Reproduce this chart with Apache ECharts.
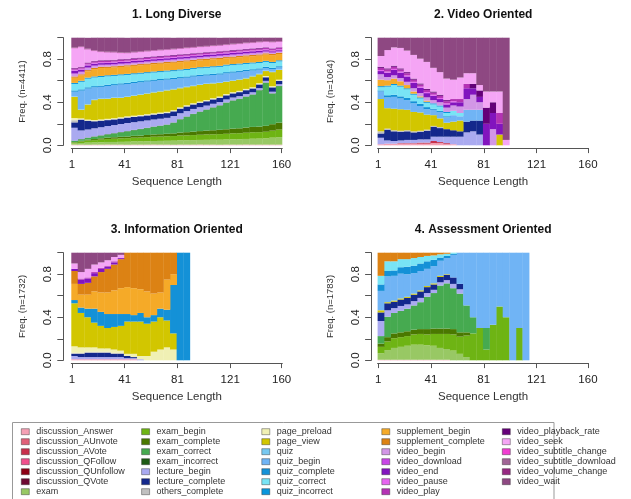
<!DOCTYPE html>
<html>
<head>
<meta charset="utf-8">
<script src="https://cdn.jsdelivr.net/npm/echarts@6/dist/echarts.min.js"></script>
<style>
html,body{margin:0;padding:0;background:#fff;}
#chart{width:631px;height:499px;}
</style>
</head>
<body>
<div id="chart"></div>
<script>
// ---- States (alphabetical = stacking order, bottom to top) and their colours ----
const states = [
  'discussion_Answer','discussion_AUnvote','discussion_AVote','discussion_QFollow','discussion_QUnfollow','discussion_QVote','exam',
  'exam_begin','exam_complete','exam_correct','exam_incorrect','lecture_begin','lecture_complete','others_complete',
  'page_preload','page_view','quiz','quiz_begin','quiz_complete','quiz_correct','quiz_incorrect',
  'supplement_begin','supplement_complete','video_begin','video_download','video_end','video_pause','video_play',
  'video_playback_rate','video_seek','video_subtitle_change','video_subtitle_download','video_volume_change','video_wait'
];
const stateColors = [
  '#F4A0B4','#E06078','#C8304C','#F0508C','#8C0014','#6E0A32','#98C864',
  '#6EB414','#4A7800','#46AA50','#1E5A14','#AAAAF0','#14288C','#C0C0C0',
  '#F0F0B4','#D2C600','#78C8F0','#70B4F5','#1491D7','#78E4F5','#0A96DC',
  '#F5AA28','#DC8214','#D296E6','#C846E6','#8214BE','#E664F0','#B432B4',
  '#640078','#F5A5F5','#F03CD2','#A06496','#962882','#8E4882'
];

const xTickValues = [1, 41, 81, 121, 160];
const yTickValues = [0, 0.2, 0.4, 0.6, 0.8, 1];
const yLabelValues = [0, 0.4, 0.8];

const panelTitles = ['1. Long Diverse', '2. Video Oriented', '3. Information Oriented', '4. Assessment Oriented'];
const panelSizes = [4411, 1064, 1732, 1783];

// Sequence positions grouped in bins of five (bin centres); every panel uses the same bins
const binCentres = [3,8,13,18,23,28,33,38,43,48,53,58,63,68,73,78,83,88,93,98,103,108,113,118,123,128,133,138,143,148,153,158];

// ---- 1. Long Diverse: state frequencies per bin ----
const ld_discussion_Answer = [0.006,0.006,0.005,0.006,0.006,0.007,0.006,0.006,0.005,0.006,0.006,0.006,0.007,0.006,0.006,0.005,0.006,0.006,0.006,0.007,0.006,0.006,0.005,0.006,0.006,0.006,0.007,0.006,0.006,0.006,0.006,0.006];
const ld_exam = [0.010,0.015,0.020,0.020,0.022,0.024,0.025,0.026,0.028,0.030,0.030,0.032,0.033,0.035,0.036,0.038,0.040,0.040,0.042,0.043,0.045,0.046,0.047,0.048,0.050,0.050,0.052,0.055,0.056,0.058,0.065,0.070];
const ld_exam_begin = [0.010,0.015,0.020,0.022,0.025,0.027,0.030,0.032,0.033,0.035,0.036,0.038,0.040,0.040,0.042,0.043,0.045,0.046,0.047,0.048,0.050,0.050,0.052,0.053,0.055,0.056,0.058,0.060,0.060,0.062,0.065,0.070];
const ld_exam_complete = [0.004,0.006,0.008,0.010,0.012,0.013,0.014,0.015,0.016,0.017,0.018,0.020,0.021,0.022,0.023,0.025,0.027,0.030,0.032,0.034,0.036,0.038,0.040,0.042,0.044,0.046,0.048,0.050,0.052,0.055,0.060,0.065];
const ld_exam_correct = [0.010,0.013,0.016,0.022,0.025,0.030,0.035,0.041,0.047,0.052,0.060,0.064,0.070,0.077,0.083,0.098,0.122,0.143,0.163,0.179,0.193,0.210,0.225,0.246,0.260,0.272,0.286,0.299,0.336,0.399,0.284,0.339];
const ld_exam_incorrect = [0.003,0.003,0.003,0.003,0.003,0.003,0.003,0.003,0.003,0.003,0.003,0.003,0.003,0.003,0.003,0.003,0.003,0.003,0.003,0.003,0.003,0.003,0.003,0.003,0.003,0.003,0.003,0.003,0.003,0.003,0.003,0.003];
const ld_lecture_begin = [0.120,0.080,0.075,0.075,0.075,0.075,0.075,0.075,0.075,0.072,0.070,0.068,0.066,0.064,0.062,0.060,0.055,0.050,0.045,0.040,0.036,0.033,0.030,0.028,0.026,0.024,0.022,0.020,0.018,0.016,0.015,0.015];
const ld_lecture_complete = [0.050,0.100,0.080,0.065,0.060,0.055,0.052,0.050,0.050,0.048,0.047,0.046,0.045,0.045,0.044,0.043,0.042,0.042,0.041,0.040,0.040,0.040,0.039,0.038,0.038,0.037,0.036,0.035,0.034,0.033,0.040,0.030];
const ld_others_complete = [0.020,0.004,0.004,0.004,0.004,0.004,0.004,0.004,0.004,0.004,0.004,0.004,0.004,0.004,0.004,0.004,0.004,0.004,0.004,0.004,0.004,0.004,0.004,0.004,0.004,0.004,0.004,0.004,0.004,0.004,0.004,0.004];
const ld_page_preload = [0.020,0.008,0.008,0.008,0.008,0.008,0.008,0.008,0.008,0.008,0.008,0.008,0.008,0.008,0.008,0.008,0.008,0.008,0.008,0.008,0.008,0.008,0.008,0.008,0.008,0.008,0.008,0.008,0.008,0.008,0.008,0.008];
const ld_page_view = [0.197,0.080,0.140,0.185,0.190,0.185,0.188,0.180,0.180,0.185,0.188,0.191,0.194,0.196,0.199,0.192,0.178,0.168,0.159,0.155,0.149,0.137,0.126,0.114,0.106,0.104,0.097,0.100,0.083,0.046,0.130,0.090];
const ld_quiz = [0.005,0.005,0.005,0.005,0.005,0.005,0.005,0.005,0.005,0.005,0.005,0.005,0.005,0.005,0.005,0.005,0.005,0.005,0.005,0.005,0.005,0.005,0.005,0.005,0.005,0.005,0.005,0.005,0.005,0.005,0.005,0.005];
const ld_quiz_begin = [0.043,0.173,0.143,0.113,0.108,0.115,0.112,0.119,0.116,0.113,0.110,0.107,0.103,0.099,0.095,0.091,0.087,0.083,0.083,0.078,0.073,0.073,0.073,0.073,0.070,0.067,0.063,0.050,0.038,0.023,0.023,0.018];
const ld_quiz_complete = [0.012,0.012,0.012,0.012,0.012,0.012,0.012,0.012,0.012,0.012,0.012,0.012,0.012,0.012,0.012,0.012,0.012,0.012,0.012,0.012,0.012,0.012,0.012,0.012,0.012,0.012,0.012,0.012,0.012,0.012,0.012,0.012];
const ld_quiz_correct = [0.060,0.070,0.080,0.080,0.080,0.078,0.076,0.074,0.072,0.070,0.068,0.066,0.065,0.064,0.063,0.062,0.061,0.060,0.060,0.060,0.060,0.060,0.060,0.060,0.058,0.056,0.055,0.053,0.050,0.045,0.045,0.045];
const ld_quiz_incorrect = [0.010,0.010,0.010,0.010,0.010,0.010,0.010,0.010,0.010,0.010,0.010,0.010,0.010,0.010,0.010,0.010,0.010,0.010,0.010,0.010,0.010,0.010,0.010,0.010,0.010,0.010,0.010,0.010,0.010,0.010,0.010,0.010];
const ld_supplement_begin = [0.048,0.048,0.058,0.068,0.073,0.068,0.068,0.068,0.068,0.068,0.068,0.068,0.068,0.068,0.068,0.068,0.068,0.068,0.063,0.063,0.063,0.063,0.063,0.058,0.058,0.058,0.058,0.058,0.058,0.058,0.063,0.058];
const ld_supplement_complete = [0.012,0.012,0.012,0.012,0.012,0.012,0.012,0.012,0.012,0.012,0.012,0.012,0.012,0.012,0.012,0.012,0.012,0.012,0.012,0.012,0.012,0.012,0.012,0.012,0.012,0.012,0.012,0.012,0.012,0.012,0.012,0.012];
const ld_video_begin = [0.022,0.018,0.018,0.015,0.013,0.013,0.013,0.013,0.013,0.013,0.013,0.013,0.013,0.013,0.013,0.013,0.013,0.013,0.013,0.013,0.013,0.013,0.013,0.013,0.013,0.013,0.013,0.013,0.013,0.011,0.008,0.008];
const ld_video_download = [0.006,0.006,0.006,0.006,0.006,0.006,0.006,0.006,0.006,0.006,0.006,0.006,0.006,0.006,0.006,0.006,0.006,0.006,0.006,0.006,0.006,0.006,0.006,0.006,0.006,0.006,0.006,0.006,0.006,0.006,0.006,0.006];
const ld_video_end = [0.026,0.020,0.020,0.018,0.015,0.015,0.015,0.015,0.015,0.015,0.015,0.015,0.015,0.015,0.015,0.015,0.015,0.015,0.015,0.015,0.015,0.015,0.015,0.015,0.015,0.015,0.015,0.015,0.015,0.012,0.010,0.010];
const ld_video_pause = [0.008,0.008,0.008,0.008,0.008,0.008,0.008,0.008,0.008,0.008,0.008,0.008,0.008,0.008,0.008,0.008,0.008,0.008,0.008,0.008,0.008,0.008,0.008,0.008,0.008,0.008,0.008,0.008,0.008,0.008,0.008,0.008];
const ld_video_play = [0.012,0.012,0.012,0.012,0.012,0.012,0.012,0.012,0.012,0.012,0.012,0.012,0.012,0.012,0.012,0.012,0.012,0.012,0.012,0.012,0.012,0.012,0.012,0.012,0.012,0.012,0.012,0.012,0.012,0.012,0.012,0.012];
const ld_video_playback_rate = [0.006,0.006,0.006,0.006,0.006,0.006,0.006,0.006,0.006,0.006,0.006,0.006,0.006,0.006,0.006,0.006,0.006,0.006,0.006,0.006,0.006,0.006,0.006,0.006,0.006,0.006,0.006,0.006,0.006,0.006,0.006,0.006];
const ld_video_seek = [0.180,0.180,0.120,0.090,0.075,0.070,0.065,0.055,0.050,0.050,0.050,0.050,0.050,0.050,0.050,0.050,0.050,0.050,0.050,0.050,0.050,0.050,0.050,0.050,0.050,0.050,0.050,0.050,0.050,0.050,0.055,0.050];
const ld_video_subtitle_change = [0.003,0.003,0.003,0.003,0.003,0.003,0.003,0.003,0.003,0.003,0.003,0.003,0.003,0.003,0.003,0.003,0.003,0.003,0.003,0.003,0.003,0.003,0.003,0.003,0.003,0.003,0.003,0.003,0.003,0.003,0.003,0.003];
const ld_video_subtitle_download = [0.002,0.002,0.002,0.002,0.002,0.002,0.002,0.002,0.002,0.002,0.002,0.002,0.002,0.002,0.002,0.002,0.002,0.002,0.002,0.002,0.002,0.002,0.002,0.002,0.002,0.002,0.002,0.002,0.002,0.002,0.002,0.002];
const ld_video_volume_change = [0.004,0.004,0.004,0.004,0.004,0.004,0.004,0.004,0.004,0.004,0.004,0.004,0.004,0.004,0.004,0.004,0.004,0.004,0.004,0.004,0.004,0.004,0.004,0.004,0.004,0.004,0.004,0.004,0.004,0.004,0.004,0.004];
const ld_video_wait = [0.091,0.081,0.101,0.116,0.126,0.131,0.131,0.136,0.136,0.131,0.126,0.121,0.116,0.111,0.106,0.101,0.096,0.091,0.086,0.081,0.076,0.071,0.066,0.061,0.056,0.051,0.046,0.041,0.036,0.031,0.036,0.031];

// ---- 2. Video Oriented (positions 1-100) ----
const vo_discussion_Answer = [0.01,0.015,0.015,0.015,0.015,0.015,0.015,0.015,0.02,0.02,0.01,0.01,0,0,0,0,0,0,0,0];
const vo_discussion_AVote = [0,0,0,0.005,0.005,0.005,0.01,0.01,0.02,0.01,0.01,0,0,0,0,0,0,0,0,0];
const vo_lecture_begin = [0.06,0.03,0.025,0.025,0.03,0.03,0.03,0.03,0.04,0.05,0.06,0.07,0.08,0.12,0.13,0.10,0,0,0,0];
const vo_lecture_complete = [0.04,0.10,0.09,0.08,0.08,0.07,0.07,0.08,0.09,0.08,0.07,0.06,0.05,0.10,0.10,0.13,0,0,0,0];
const vo_others_complete = [0.02,0.01,0.01,0.01,0.01,0.01,0.01,0.01,0.01,0.01,0,0,0,0,0,0,0,0,0,0];
const vo_page_view = [0.30,0.19,0.20,0.20,0.19,0.18,0.17,0.14,0.10,0.08,0.06,0.08,0.10,0,0,0,0,0,0.10,0];
const vo_quiz_begin = [0.07,0.10,0.11,0.10,0.09,0.08,0.06,0.05,0.05,0.06,0.05,0.06,0.04,0.11,0.10,0.10,0,0,0,0];
const vo_quiz_complete = [0.01,0.02,0.02,0.02,0.02,0.02,0.02,0.02,0.01,0.01,0.01,0,0,0,0,0,0,0,0,0];
const vo_quiz_correct = [0.03,0.08,0.09,0.09,0.08,0.06,0.05,0.04,0.04,0.04,0.03,0.04,0.03,0,0,0,0,0,0,0];
const vo_quiz_incorrect = [0.01,0.01,0.01,0.01,0.01,0.01,0.01,0.01,0.01,0.01,0.01,0,0,0,0,0,0,0,0,0];
const vo_supplement_begin = [0.06,0.05,0.05,0.04,0.03,0.02,0.01,0.01,0,0,0,0,0,0,0,0,0,0,0,0];
const vo_video_begin = [0.05,0.03,0.03,0.03,0.03,0.03,0.03,0.03,0.03,0.03,0.04,0.05,0.06,0.10,0.14,0.07,0,0.15,0,0];
const vo_video_end = [0.03,0.04,0.05,0.05,0.05,0.05,0.05,0.04,0.04,0.03,0.03,0.03,0.04,0.10,0.06,0.05,0.20,0.15,0.10,0];
const vo_video_pause = [0.01,0.01,0.01,0.01,0.01,0.01,0.01,0.01,0.01,0.01,0.01,0.01,0,0,0,0,0,0,0,0];
const vo_video_play = [0.02,0.02,0.02,0.02,0.02,0.02,0.02,0.02,0.02,0.02,0.02,0.02,0.03,0.04,0,0,0,0,0.10,0];
const vo_video_playback_rate = [0.01,0.01,0.01,0.01,0.01,0.01,0.01,0.01,0.01,0.01,0.01,0,0,0,0.04,0.06,0.15,0.10,0,0];
const vo_video_seek = [0.10,0.17,0.17,0.19,0.20,0.22,0.23,0.25,0.22,0.21,0.20,0.18,0.20,0.10,0.10,0.05,0.15,0.10,0.20,0.05];
const vo_video_wait = [0.17,0.115,0.09,0.095,0.12,0.16,0.195,0.225,0.28,0.32,0.38,0.39,0.37,0.33,0.33,0.44,0.50,0.50,0.50,0.95];

// ---- 3. Information Oriented (positions 1-90) ----
const io_discussion_Answer = [0.01,0.01,0.01,0.01,0.01,0.01,0.01,0.01,0.01,0.01,0,0,0,0,0,0,0,0];
const io_lecture_begin = [0.03,0.02,0.02,0.02,0.02,0.02,0.02,0.02,0.01,0.01,0.01,0,0,0,0,0,0,0];
const io_lecture_complete = [0.02,0.03,0.04,0.04,0.04,0.04,0.03,0.03,0.02,0.01,0,0,0,0,0,0,0,0];
const io_others_complete = [0.01,0.01,0.01,0.01,0.01,0.01,0.01,0.01,0,0,0,0,0,0,0,0,0,0];
const io_page_preload = [0.06,0.05,0.04,0.04,0.03,0.03,0.03,0.02,0.02,0.03,0.03,0.04,0.08,0.10,0.12,0.10,0,0];
const io_page_view = [0.40,0.32,0.28,0.23,0.21,0.19,0.21,0.23,0.30,0.30,0.32,0.30,0.28,0.30,0.25,0.15,0,0];
const io_quiz_complete = [0.03,0.05,0.08,0.13,0.13,0.13,0.12,0.11,0.07,0.06,0.08,0.06,0.06,0.08,0.10,0.45,1.0,1.0];
const io_supplement_begin = [0.15,0.12,0.13,0.16,0.18,0.20,0.22,0.24,0.25,0.25,0.22,0.24,0.20,0.15,0.28,0.10,0,0];
const io_supplement_complete = [0.12,0.10,0.11,0.14,0.19,0.22,0.24,0.27,0.32,0.33,0.34,0.36,0.38,0.37,0.25,0.20,0,0];
const io_video_end = [0.02,0.04,0.04,0.03,0.03,0.02,0.02,0.01,0,0,0,0,0,0,0,0,0,0];
const io_video_play = [0,0.01,0.01,0.01,0.01,0.01,0.01,0,0,0,0,0,0,0,0,0,0,0];
const io_video_seek = [0.05,0.06,0.08,0.07,0.05,0.05,0.04,0.03,0,0,0,0,0,0,0,0,0,0];
const io_video_wait = [0.10,0.18,0.15,0.11,0.09,0.07,0.04,0.02,0,0,0,0,0,0,0,0,0,0];

// ---- 4. Assessment Oriented (positions 1-115) ----
const ao_discussion_Answer = [0.005,0.005,0.005,0.005,0.005,0.005,0.005,0.005,0.005,0.005,0.005,0,0,0,0,0,0,0,0,0,0,0,0];
const ao_exam = [0.06,0.09,0.11,0.12,0.13,0.14,0.14,0.135,0.13,0.11,0.10,0.09,0.06,0.03,0,0,0,0,0,0,0,0,0];
const ao_exam_begin = [0.06,0.08,0.09,0.09,0.09,0.095,0.10,0.10,0.11,0.13,0.14,0.15,0.16,0.20,0.25,0.30,0.10,0.33,0.50,0.40,0,0.30,0];
const ao_exam_complete = [0.03,0.04,0.045,0.045,0.045,0.045,0.045,0.05,0.05,0.05,0.05,0.05,0.04,0.03,0,0,0,0,0,0,0,0,0];
const ao_exam_correct = [0.07,0.19,0.19,0.20,0.21,0.225,0.25,0.30,0.33,0.40,0.42,0.38,0.36,0.25,0.15,0,0.20,0,0,0,0,0,0];
const ao_lecture_begin = [0.14,0.06,0.045,0.045,0.04,0.04,0.04,0.035,0.03,0.03,0.03,0.04,0.04,0,0,0,0,0,0,0,0,0,0];
const ao_lecture_complete = [0.08,0.065,0.06,0.06,0.06,0.06,0.06,0.055,0.05,0.05,0.05,0.06,0.05,0,0,0,0,0,0,0,0,0,0];
const ao_page_view = [0.02,0.01,0.01,0.01,0.01,0.01,0.01,0.01,0.01,0.01,0.005,0,0,0,0,0,0,0,0,0,0,0,0];
const ao_quiz_begin = [0.18,0.24,0.23,0.23,0.21,0.19,0.18,0.16,0.16,0.14,0.15,0.21,0.29,0.49,0.60,0.70,0.70,0.67,0.50,0.60,1.0,0.70,1.0];
const ao_quiz_complete = [0.06,0.05,0.05,0.06,0.07,0.07,0.07,0.07,0.06,0.03,0.02,0.01,0,0,0,0,0,0,0,0,0,0,0];
const ao_quiz_correct = [0.08,0.09,0.085,0.075,0.07,0.07,0.06,0.05,0.04,0.03,0.02,0.01,0,0,0,0,0,0,0,0,0,0,0];
const ao_supplement_complete = [0.215,0.08,0.08,0.06,0.06,0.05,0.04,0.03,0.025,0.015,0.01,0,0,0,0,0,0,0,0,0,0,0,0];

// ---- Tables handed to the chart ----
const panelTables = [
  {
    discussion_Answer: ld_discussion_Answer, exam: ld_exam, exam_begin: ld_exam_begin, exam_complete: ld_exam_complete,
    exam_correct: ld_exam_correct, exam_incorrect: ld_exam_incorrect, lecture_begin: ld_lecture_begin,
    lecture_complete: ld_lecture_complete, others_complete: ld_others_complete, page_preload: ld_page_preload,
    page_view: ld_page_view, quiz: ld_quiz, quiz_begin: ld_quiz_begin, quiz_complete: ld_quiz_complete,
    quiz_correct: ld_quiz_correct, quiz_incorrect: ld_quiz_incorrect, supplement_begin: ld_supplement_begin,
    supplement_complete: ld_supplement_complete, video_begin: ld_video_begin, video_download: ld_video_download,
    video_end: ld_video_end, video_pause: ld_video_pause, video_play: ld_video_play,
    video_playback_rate: ld_video_playback_rate, video_seek: ld_video_seek,
    video_subtitle_change: ld_video_subtitle_change, video_subtitle_download: ld_video_subtitle_download,
    video_volume_change: ld_video_volume_change, video_wait: ld_video_wait
  },
  {
    discussion_Answer: vo_discussion_Answer, discussion_AVote: vo_discussion_AVote, lecture_begin: vo_lecture_begin,
    lecture_complete: vo_lecture_complete, others_complete: vo_others_complete, page_view: vo_page_view,
    quiz_begin: vo_quiz_begin, quiz_complete: vo_quiz_complete, quiz_correct: vo_quiz_correct,
    quiz_incorrect: vo_quiz_incorrect, supplement_begin: vo_supplement_begin, video_begin: vo_video_begin,
    video_end: vo_video_end, video_pause: vo_video_pause, video_play: vo_video_play,
    video_playback_rate: vo_video_playback_rate, video_seek: vo_video_seek, video_wait: vo_video_wait
  },
  {
    discussion_Answer: io_discussion_Answer, lecture_begin: io_lecture_begin, lecture_complete: io_lecture_complete,
    others_complete: io_others_complete, page_preload: io_page_preload, page_view: io_page_view,
    quiz_complete: io_quiz_complete, supplement_begin: io_supplement_begin, supplement_complete: io_supplement_complete,
    video_end: io_video_end, video_play: io_video_play, video_seek: io_video_seek, video_wait: io_video_wait
  },
  {
    discussion_Answer: ao_discussion_Answer, exam: ao_exam, exam_begin: ao_exam_begin, exam_complete: ao_exam_complete,
    exam_correct: ao_exam_correct, lecture_begin: ao_lecture_begin, lecture_complete: ao_lecture_complete,
    page_view: ao_page_view, quiz_begin: ao_quiz_begin, quiz_complete: ao_quiz_complete,
    quiz_correct: ao_quiz_correct, supplement_complete: ao_supplement_complete
  }
];

// ---- Layout ----
const FONT = "'Liberation Sans', Arial, Helvetica, sans-serif";
const plotW = 211, plotH = 107.6;
const panelBoxes = [
  { left: 71.3,  top: 37.7,  yOffset: 8.0 },
  { left: 377.6, top: 37.7,  yOffset: 6.5 },
  { left: 71.3,  top: 252.7, yOffset: 8.0 },
  { left: 377.6, top: 252.7, yOffset: 6.5 }
];
const binPixelWidth = plotW / binCentres.length + 0.35;

const grid = panelBoxes.map(b => ({ left: b.left, top: b.top, width: plotW, height: plotH }));

const axisLineStyle = { color: '#555', width: 1 };

// Each panel: a hidden category axis carrying the bins, and a visible value axis for positions
const xAxis = [];
panelBoxes.forEach((b, k) => {
  xAxis.push({
    type: 'category', gridIndex: k, data: binCentres.map(String), boundaryGap: true, show: false
  });
  xAxis.push({
    type: 'value', gridIndex: k, min: 0.5, max: 160.5, offset: 2.8, position: 'bottom',
    name: 'Sequence Length', nameLocation: 'middle', nameGap: 28,
    nameTextStyle: { fontSize: 11.5, color: '#333', fontFamily: FONT },
    axisLine: { show: true, onZero: false, lineStyle: axisLineStyle },
    axisTick: { show: true, length: 5, customValues: xTickValues, lineStyle: axisLineStyle },
    axisLabel: { customValues: xTickValues, fontSize: 11.5, color: '#222', margin: 11, fontFamily: FONT },
    splitLine: { show: false }
  });
});

const yAxis = panelBoxes.map((b, k) => ({
  type: 'value', gridIndex: k, min: 0, max: 1, offset: b.yOffset,
  name: 'Freq. (n=' + panelSizes[k] + ')', nameLocation: 'middle', nameGap: 36,
  nameTextStyle: { fontSize: 9.5, color: '#333', fontFamily: FONT },
  axisLine: { show: true, onZero: false, lineStyle: axisLineStyle },
  axisTick: { show: true, length: 6, customValues: yTickValues, lineStyle: axisLineStyle },
  axisLabel: {
    customValues: yLabelValues, rotate: 90, fontSize: 11.5, color: '#222', margin: 9, fontFamily: FONT,
    formatter: v => Number(v).toFixed(1)
  },
  splitLine: { show: false }
}));

// One stacked bar series per state and panel; the first panel carries every state so the legend lists them all.
const series = [];
panelTables.forEach((tbl, k) => {
  states.forEach((s, si) => {
    const vals = tbl[s];
    if (!vals && k !== 0) return;
    series.push({
      type: 'bar', name: s, stack: 'panel' + k, xAxisIndex: 2 * k, yAxisIndex: k,
      barWidth: binPixelWidth,
      itemStyle: { color: stateColors[si] },
      emphasis: { disabled: true }, silent: true,
      data: vals ? vals.slice() : []
    });
  });
});

// Legend: five columns, filled top to bottom
const legendColumnLefts = [21, 141.3, 261.5, 381.5, 502];
const legend = legendColumnLefts.map((lx, c) => ({
  orient: 'vertical', left: lx, top: 426.7, height: 80, padding: 0,
  itemWidth: 8, itemHeight: 6, itemGap: 0,
  icon: 'rect', selectedMode: false,
  itemStyle: { borderColor: 'rgba(40,40,40,0.7)', borderWidth: 0.6 },
  textStyle: { fontSize: 9, lineHeight: 10, color: '#333', fontFamily: FONT, padding: [0, 0, 0, 2] },
  data: states.slice(c * 7, c * 7 + 7)
}));

const titleCenters = [[176.8, 15], [483.2, 15], [176.8, 230], [483.2, 230]];
const graphic = panelTitles.map((t, k) => ({
  type: 'text', x: titleCenters[k][0], y: titleCenters[k][1], silent: true,
  style: { text: t, font: 'bold 12px ' + FONT, fill: '#111', align: 'center', verticalAlign: 'middle' }
}));
graphic.push({
  type: 'rect', silent: true,
  shape: { x: 12.5, y: 422.5, width: 541.5, height: 100 },
  style: { fill: 'none', stroke: '#999', lineWidth: 1 }
});

const chart = echarts.init(document.getElementById('chart'), null, { renderer: 'canvas' });
chart.setOption({
  animation: false,
  backgroundColor: '#fff',
  textStyle: { fontFamily: FONT },
  grid, xAxis, yAxis, series, legend, graphic
});
</script>
</body>
</html>
